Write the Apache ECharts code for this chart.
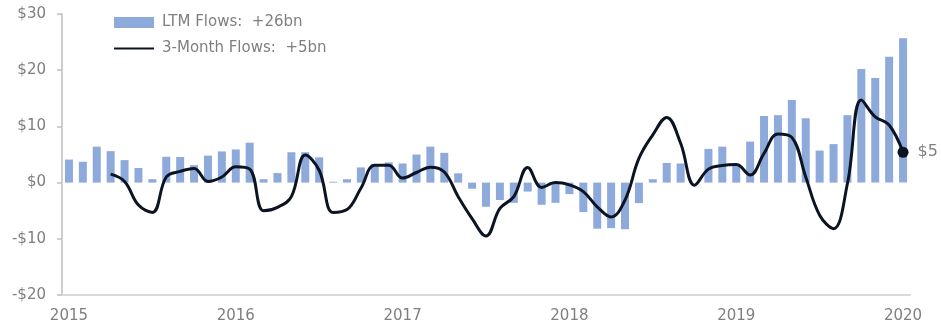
<!DOCTYPE html>
<html>
<head>
<meta charset="utf-8">
<script src="https://cdn.jsdelivr.net/npm/echarts@6/dist/echarts.min.js"></script>
<style>
  html, body { margin: 0; padding: 0; background: #ffffff; }
  #chart { width: 941px; height: 329px; }
</style>
</head>
<body>
<div id="chart"></div>
<script>
// Monthly categories, Jan 2015 - Jan 2020; only January shows the year
const years = ['2015', '2016', '2017', '2018', '2019', '2020'];
const monthCodes = ['01', '02', '03', '04', '05', '06', '07', '08', '09', '10', '11', '12'];
const categories = [];
years.forEach(function (y) {
  monthCodes.forEach(function (m) {
    if (y === '2020' && m !== '01') return;
    categories.push(y + '-' + m);
  });
});

// Last-twelve-month flows ($bn)
const ltmFlows = [
  4.1, 3.7, 6.4, 5.6, 4.0, 2.6, 0.6, 4.6, 4.55, 3.1, 4.8, 5.55,
  5.9, 7.1, 0.6, 1.7, 5.4, 5.4, 4.5, 0.15, 0.6, 2.7, 3.3, 3.6,
  3.4, 5.0, 6.4, 5.3, 1.65, -1.1, -4.3, -3.1, -3.6, -1.6, -3.95, -3.6,
  -2.05, -5.25, -8.2, -8.1, -8.3, -3.65, 0.6, 3.5, 3.4, 0.0, 6.0, 6.4,
  3.4, 7.3, 11.85, 12.0, 14.7, 11.45, 5.7, 6.85, 12.0, 20.2, 18.6, 22.4,
  25.7
];

// Rolling three-month flows ($bn); starts in April 2015
const threeMonthFlows = [
  null, null, null, 1.5, 0.2, -4.0, -5.3, 1.0, 2.0, 2.5, 0.2, 1.0,
  2.8, 2.4, -5.0, -4.4, -2.5, 4.9, 2.2, -5.3, -4.8, -1.0, 3.1, 3.1,
  0.8, 1.8, 2.75, 1.9, -2.5, -6.4, -9.5, -4.6, -2.5, 2.7, -0.85, 0.0,
  -0.4, -1.6, -4.3, -6.1, -3.1, 4.3, 8.5, 11.6, 7.0, -0.45, 2.4, 3.05,
  3.2, 1.35, 5.2, 8.65, 8.05, 1.0, -5.8, -8.2, -0.15, 14.7, 11.7, 10.25,
  5.4
];

// Value-axis ticks
const yMin = -20, yMax = 30, yStep = 10;

const fmtMoney = function (v) {
  return (v < 0 ? '-$' : '$') + Math.abs(v);
};

const lastIdx = threeMonthFlows.length - 1;
const ltmLast = Math.round(ltmFlows[ltmFlows.length - 1]);
const tmLast = Math.round(threeMonthFlows[lastIdx]);
const legendText = {
  'LTM Flows': 'LTM Flows:  +' + ltmLast + 'bn',
  '3-Month Flows': '3-Month Flows:  +' + tmLast + 'bn'
};

const textGrey = '#7f7f7f';
const lineColor = '#0c1424';
const font = 'DejaVu Sans';

const chart = echarts.init(document.getElementById('chart'), null, { renderer: 'canvas' });
chart.setOption({
  animation: false,
  backgroundColor: '#ffffff',
  grid: { left: 62, right: 31, top: 14, bottom: 34, containLabel: false },
  legend: {
    orient: 'vertical',
    left: 108,
    top: 10,
    itemWidth: 40,
    itemHeight: 11,
    itemGap: 11,
    textStyle: { color: textGrey, fontSize: 15, fontFamily: font, padding: [0, 0, 0, 3] },
    formatter: function (name) { return legendText[name]; },
    data: [
      { name: 'LTM Flows', icon: 'rect' },
      // plain line key, no marker
      { name: '3-Month Flows', itemStyle: { opacity: 0 } }
    ]
  },
  xAxis: [
    {
      type: 'category',
      data: categories,
      position: 'bottom',
      axisLine: { show: false },
      axisTick: { show: false },
      axisLabel: {
        interval: 11,
        margin: 14,
        color: textGrey,
        fontSize: 15,
        fontFamily: font,
        formatter: function (v) { return v.slice(0, 4); }
      },
      splitLine: { show: false }
    },
    {
      // zero baseline
      type: 'category',
      data: categories,
      position: 'bottom',
      axisLine: { show: true, onZero: true, lineStyle: { color: '#d9d9d9', width: 2 } },
      axisTick: { show: false },
      axisLabel: { show: false },
      splitLine: { show: false }
    }
  ],
  yAxis: {
    type: 'value',
    min: yMin,
    max: yMax,
    interval: yStep,
    axisLine: { show: true, lineStyle: { color: '#bfbfbf', width: 1.5 } },
    axisTick: { show: true, inside: false, length: 5, lineStyle: { color: '#bfbfbf', width: 1.5 } },
    axisLabel: {
      margin: 16,
      color: textGrey,
      fontSize: 15,
      fontFamily: font,
      formatter: fmtMoney
    },
    splitLine: { show: false }
  },
  series: [
    {
      name: 'LTM Flows',
      type: 'bar',
      xAxisIndex: 0,
      data: ltmFlows,
      barWidth: 8,
      itemStyle: { color: '#8eaadb' },
      z: 2
    },
    {
      name: '3-Month Flows',
      type: 'line',
      xAxisIndex: 0,
      data: threeMonthFlows,
      smooth: 0.4,
      symbol: 'none',
      connectNulls: false,
      lineStyle: { color: lineColor, width: 3 },
      itemStyle: { color: lineColor },
      z: 3,
      markPoint: {
        symbol: 'circle',
        symbolSize: 11,
        itemStyle: { color: lineColor },
        label: {
          show: true,
          position: 'right',
          distance: 9,
          formatter: function (p) { return '$' + Math.round(p.value); },
          color: textGrey,
          fontSize: 16,
          fontFamily: font
        },
        data: [
          { coord: [lastIdx, threeMonthFlows[lastIdx]], value: threeMonthFlows[lastIdx] }
        ]
      }
    }
  ]
});
</script>
</body>
</html>
